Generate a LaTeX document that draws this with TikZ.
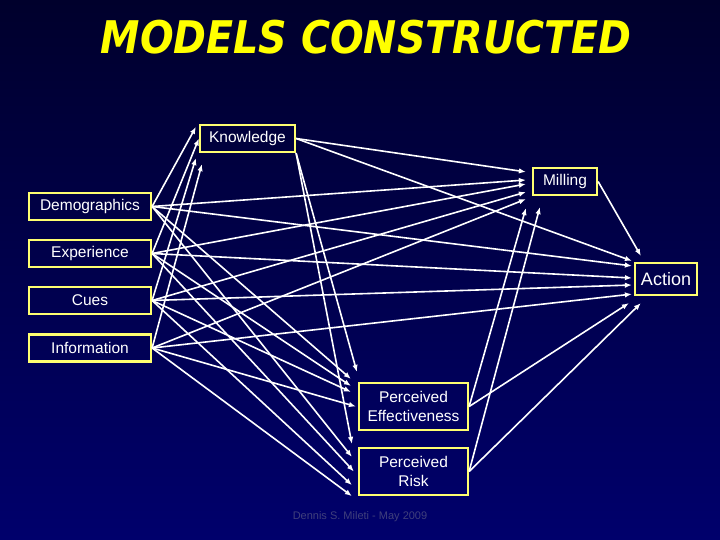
\documentclass[tikz,border=0pt]{standalone}
\usepackage{fontspec}
\setmainfont{Liberation Sans}
\newfontfamily\titlefont{DejaVu Sans Bold Oblique}
\usetikzlibrary{arrows.meta}
\definecolor{bgtop}{RGB}{0,0,44}
\definecolor{bgbot}{RGB}{0,0,108}
\definecolor{boxline}{RGB}{255,255,112}
\definecolor{titleyellow}{RGB}{255,255,0}
\definecolor{footgray}{RGB}{64,64,124}
\begin{document}
\begin{tikzpicture}[x=1pt, y=-1pt,
  box/.style={rectangle, draw=boxline, line width=2.2pt, text=white,
              inner sep=0pt, align=center,
              font=\fontsize{15.5}{19}\selectfont},
  arr/.style={-{Latex[length=7pt,width=5.5pt]}, white, line width=1.6pt}
]
  % Background
  \shade[top color=bgtop, bottom color=bgbot] (0,0) rectangle (720,540);
  \useasboundingbox (0,0) rectangle (720,540);

  % Title
  \node[titleyellow, font=\titlefont\fontsize{45}{50}\selectfont] (title) at (366,37)
    {\scalebox{0.88}[1]{MODELS CONSTRUCTED}};

  % Causes
  \foreach \n/\y/\t in {dem/206.5/Demographics, exp/253.5/Experience,
                        cue/300.5/Cues, inf/348/Information} {
    \node[box, minimum width=122pt, minimum height=27pt] (\n) at (90,\y) {\t};
  }

  % Mediators and outcome
  \node[box, minimum width=95pt, minimum height=27pt] (kno) at (247.5,138.5) {Knowledge};
  \node[box, minimum width=64pt, minimum height=27pt] (mil) at (565,181.5) {Milling};
  \node[box, minimum width=62pt, minimum height=32pt,
        font=\fontsize{18}{21}\selectfont] (act) at (666,279) {Action};
  \node[box, minimum width=109pt, minimum height=47pt] (pe) at (413.5,406.5)
    {Perceived\\Effectiveness};
  \node[box, minimum width=109pt, minimum height=47pt] (pr) at (413.5,471.5)
    {Perceived\\Risk};

  % Causes to knowledge
  \draw[arr] (dem.east) -- ([shift={(-3,3)}]kno.north west);
  \draw[arr] (exp.east) -- ([shift={(0,0)}]kno.west);
  \draw[arr] (cue.east) -- ([shift={(-3,5)}]kno.south west);
  \draw[arr] (inf.east) -- ([shift={(3,11)}]kno.south west);

  % Into milling
  \draw[arr] (kno.east) -- ([shift={(-6,5)}]mil.north west);
  \draw[arr] (dem.east) -- ([shift={(-6,-1.5)}]mil.west);
  \draw[arr] (exp.east) -- ([shift={(-6,2.5)}]mil.west);
  \draw[arr] (cue.east) -- ([shift={(-6,-4)}]mil.south west);
  \draw[arr] (inf.east) -- ([shift={(-6,3)}]mil.south west);
  \draw[arr] (pe.east) -- ([shift={(-6,12)}]mil.south west);
  \draw[arr] (pr.east) -- ([shift={(8,11)}]mil.south west);

  % Into action
  \draw[arr] (mil.east) -- ([shift={(7,-6)}]act.north west);
  \draw[arr] (kno.east) -- ([shift={(-2,-1)}]act.north west);
  \draw[arr] (dem.east) -- ([shift={(-2,4)}]act.north west);
  \draw[arr] (exp.east) -- ([shift={(-2,-1)}]act.west);
  \draw[arr] (cue.east) -- ([shift={(-2,6)}]act.west);
  \draw[arr] (inf.east) -- ([shift={(-2,-2)}]act.south west);
  \draw[arr] (pe.east) -- ([shift={(-5,7)}]act.south west);
  \draw[arr] (pr.east) -- ([shift={(7,7)}]act.south west);

  % Into perceived effectiveness
  \draw[arr] (kno.south east) -- ([shift={(-1,-10)}]pe.north west);
  \draw[arr] (dem.east) -- ([shift={(-7,-3)}]pe.north west);
  \draw[arr] (exp.east) -- ([shift={(-7,4)}]pe.north west);
  \draw[arr] (cue.east) -- ([shift={(-7,10)}]pe.north west);
  \draw[arr] (inf.east) -- ([shift={(-2,0)}]pe.west);

  % Into perceived risk
  \draw[arr] (kno.south east) -- ([shift={(-6,-3)}]pr.north west);
  \draw[arr] (dem.east) -- ([shift={(-6,10)}]pr.north west);
  \draw[arr] (exp.east) -- ([shift={(-4,0)}]pr.west);
  \draw[arr] (cue.east) -- ([shift={(-6,-11)}]pr.south west);
  \draw[arr] (inf.east) -- ([shift={(-6,0)}]pr.south west);

  % Footer
  \node[footgray, font=\fontsize{11}{13}\selectfont] (foot) at (360,517)
    {Dennis S. Mileti - May 2009};
\end{tikzpicture}
\end{document}
